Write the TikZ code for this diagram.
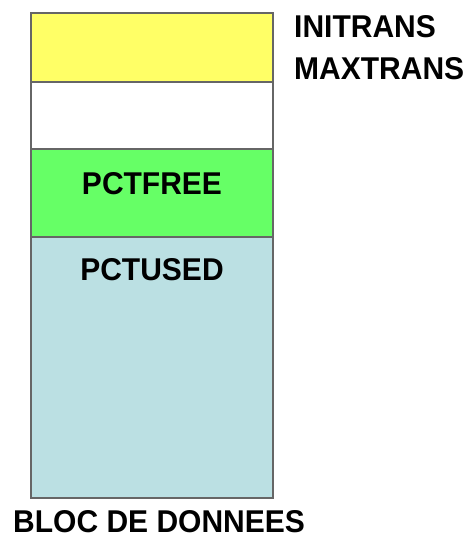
\documentclass[tikz,border=0pt]{standalone}
\usepackage{fontspec}
\setmainfont{Liberation Sans}
\definecolor{fillyellow}{HTML}{FFFF66}
\definecolor{fillgreen}{HTML}{66FF66}
\definecolor{fillblue}{HTML}{BBE0E3}
\definecolor{edge}{HTML}{666666}
\begin{document}
\begin{tikzpicture}[x=1pt,y=-1pt,
  zone/.style={draw=edge,line width=1.5pt},
  lbl/.style={font=\fontsize{30}{33}\selectfont\bfseries,inner sep=0pt,yscale=1.05}]
\useasboundingbox (0,0) rectangle (468,553);
% stacked zones of the data block
\path[zone,fill=fillyellow] (31,13) rectangle (273,82);
\path[zone,fill=white] (31,82) rectangle (273,149);
\path[zone,fill=fillgreen] (31,149) rectangle (273,237);
\path[zone,fill=fillblue] (31,237) rectangle (273,498);
% labels
\node[lbl,anchor=base west] (ini) at (294,38) {INITRANS};
\node[lbl,anchor=base west] (max) at (294,80) {MAXTRANS};
\node[lbl,anchor=base] (free) at (152,195) {PCTFREE};
\node[lbl,anchor=base] (used) at (152,280) {PCTUSED};
\node[lbl,anchor=base west] (bloc) at (13,532) {BLOC DE DONNEES};
\end{tikzpicture}
\end{document}
